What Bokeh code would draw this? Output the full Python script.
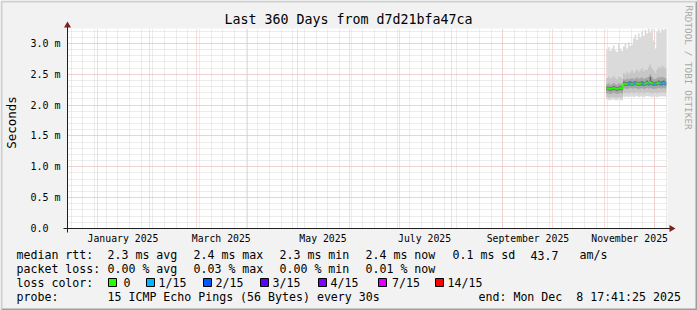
import datetime as dt
from bokeh.plotting import figure
from bokeh.models import (Range1d, FixedTicker, Label, PolyAnnotation, BoxAnnotation,
                          ColumnDataSource, Grid, LinearAxis, DatetimeAxis)
from bokeh.embed import file_html
from bokeh.resources import INLINE

# ---------------- data ----------------
end_time = dt.datetime(2025, 12, 8, 17, 41, 25)
start_time = end_time - dt.timedelta(days=360)
first_day = dt.datetime(2025, 11, 2)

median_ms = [2.27, 2.27, 2.26, 2.27, 2.28, 2.27, 2.26, 2.27, 2.28, 2.27,
             2.34, 2.35, 2.34, 2.35, 2.35, 2.34, 2.35, 2.36, 2.35, 2.34,
             2.35, 2.35, 2.34, 2.35, 2.36, 2.35, 2.37, 2.35, 2.34, 2.35,
             2.35, 2.36, 2.35, 2.35, 2.36, 2.35]
smoke_max = [2.90, 2.94, 2.88, 2.92, 2.97, 2.89, 2.86, 2.99, 2.92, 2.88,
             2.95, 3.00, 2.92, 3.02, 2.96, 2.98, 3.08, 3.14, 3.06, 3.16,
             3.10, 3.20, 3.12, 3.22, 3.16, 3.24, 3.18, 3.24, 3.05, 2.92,
             3.20, 3.24, 3.18, 3.24, 3.22, 3.24]
smoke_hi2 = [2.44, 2.46, 2.43, 2.45, 2.47, 2.44, 2.42, 2.46, 2.45, 2.43,
             2.52, 2.50, 2.54, 2.51, 2.53, 2.56, 2.52, 2.55, 2.58, 2.54,
             2.56, 2.60, 2.55, 2.58, 2.57, 2.62, 2.66, 2.60, 2.56, 2.52,
             2.58, 2.62, 2.60, 2.64, 2.62, 2.60]
smoke_hi3 = [2.34, 2.35, 2.33, 2.34, 2.36, 2.34, 2.33, 2.35, 2.35, 2.34,
             2.42, 2.41, 2.43, 2.42, 2.43, 2.44, 2.42, 2.44, 2.45, 2.43,
             2.44, 2.45, 2.43, 2.44, 2.45, 2.46, 2.50, 2.45, 2.43, 2.42,
             2.44, 2.46, 2.45, 2.46, 2.45, 2.44]
smoke_hi4 = [2.30, 2.30, 2.29, 2.30, 2.31, 2.30, 2.29, 2.30, 2.31, 2.30,
             2.38, 2.38, 2.37, 2.38, 2.39, 2.37, 2.38, 2.39, 2.38, 2.37,
             2.38, 2.39, 2.37, 2.38, 2.40, 2.38, 2.46, 2.39, 2.37, 2.38,
             2.38, 2.40, 2.38, 2.39, 2.40, 2.38]
smoke_lo4 = [2.24, 2.24, 2.23, 2.24, 2.25, 2.24, 2.23, 2.24, 2.25, 2.24,
             2.31, 2.32, 2.31, 2.32, 2.32, 2.31, 2.32, 2.33, 2.32, 2.31,
             2.32, 2.32, 2.31, 2.32, 2.33, 2.32, 2.33, 2.32, 2.31, 2.32,
             2.32, 2.33, 2.32, 2.32, 2.33, 2.32]
smoke_lo3 = [2.19, 2.19, 2.18, 2.19, 2.20, 2.19, 2.18, 2.19, 2.20, 2.19,
             2.27, 2.27, 2.26, 2.27, 2.28, 2.27, 2.27, 2.28, 2.27, 2.26,
             2.27, 2.28, 2.26, 2.27, 2.28, 2.27, 2.28, 2.27, 2.26, 2.27,
             2.27, 2.28, 2.27, 2.27, 2.28, 2.27]
smoke_lo2 = [2.13, 2.12, 2.12, 2.13, 2.13, 2.12, 2.12, 2.13, 2.13, 2.12,
             2.20, 2.19, 2.20, 2.19, 2.20, 2.20, 2.19, 2.20, 2.21, 2.19,
             2.20, 2.20, 2.19, 2.20, 2.21, 2.20, 2.20, 2.19, 2.20, 2.20,
             2.19, 2.20, 2.20, 2.21, 2.20, 2.20]
smoke_min = [2.09, 2.08, 2.08, 2.09, 2.09, 2.08, 2.08, 2.09, 2.08, 2.08,
             2.14, 2.13, 2.14, 2.13, 2.14, 2.14, 2.13, 2.14, 2.15, 2.13,
             2.14, 2.14, 2.13, 2.14, 2.15, 2.14, 2.14, 2.13, 2.14, 2.14,
             2.13, 2.14, 2.14, 2.15, 2.14, 2.14]
loss_of_15 = [0, 0, 0, 0, 0, 0, 0, 0, 0, 0,
              0, 0, 0, 1, 1, 0, 1, 1, 0, 0,
              0, 1, 1, 0, 0, 1, 0, 0, 1, 1,
              0, 0, 1, 1, 1, 1]

loss_labels = ["0", "1/15", "2/15", "3/15", "4/15", "7/15", "14/15"]
loss_colors = ["#26ff00", "#00b8ff", "#0059ff", "#5e00ff", "#7e00ff", "#dd00ff", "#ff0000"]
loss_levels = [0, 1, 2, 3, 4, 7, 14]

y_ticks = [0.0, 0.5, 1.0, 1.5, 2.0, 2.5, 3.0]
y_tick_labels = ["0.0\u00a0\u00a0", "0.5 m", "1.0 m", "1.5 m", "2.0 m", "2.5 m", "3.0 m"]
x_tick_labels = ["January 2025", "March 2025", "May 2025", "July 2025",
                 "September 2025", "November 2025"]
x_label_months = [(2025, 1), (2025, 3), (2025, 5), (2025, 7), (2025, 9), (2025, 11)]

title_text = "Last 360 Days from d7d21bfa47ca"
rtt_row = [("median rtt:", 16), ("2.3 ms avg", 107), ("2.4 ms max", 193),
           ("2.3 ms min", 279), ("2.4 ms now", 365), ("0.1 ms sd", 452),
           ("43.7", 530), ("am/s", 579)]
loss_row = [("packet loss:", 16), ("0.00 % avg", 107), ("0.03 % max", 193),
            ("0.00 % min", 279), ("0.01 % now", 365)]
probe_row = [("probe:", 16), ("15 ICMP Echo Pings (56 Bytes) every 30s", 107),
             ("end: Mon Dec\u00a0\u00a08 17:41:25 2025", 478)]
box_x = [108, 146, 203, 260, 318, 378, 435]
box_text_x = [123, 158, 215, 272, 330, 391.5, 447]

# ---------------- geometry helpers ----------------
W, H = 697, 310
FL, FT, FR, FB = 67, 28, 667, 228
EPOCH = dt.datetime(1970, 1, 1)
def ms(t):
    return (t - EPOCH).total_seconds() * 1000.0

Y_TOP = 3.243
X0 = ms(start_time)
XEND = ms(end_time)
px_ms = (XEND - X0) / (FR - FL)
px_y = Y_TOP / (FB - FT)
def dx(px):
    return X0 + (px - FL) * px_ms
def dy(py):
    return (FB - py) * px_y

FONT = "DejaVu Sans Mono"
BACK = "#f2f2f2"
GRID = "#d9d9d9"
MGRID = "#f2b6b6"
ARROW_C = "#801f1f"
AXIS_C = "#1f1f1f"

p = figure(width=W, height=H, x_axis_type="datetime",
           x_axis_location=None, y_axis_location=None,
           x_range=Range1d(dx(0), dx(W)), y_range=Range1d(dy(H), dy(0)),
           min_border=0, min_border_left=0, min_border_right=0,
           min_border_top=0, min_border_bottom=0,
           output_backend="svg", toolbar_location=None,
           background_fill_color=BACK, border_fill_color=BACK,
           outline_line_color=None, title=None)
p.center = []

# white canvas of the graph area
p.add_layout(BoxAnnotation(left=X0, right=XEND, bottom=0, top=Y_TOP, level="image",
                           fill_color="white", fill_alpha=1, line_color=None))

# grid
month_starts = []
yy, mm = 2025, 1
while True:
    t = dt.datetime(yy, mm, 1)
    if t > end_time:
        break
    month_starts.append(ms(t))
    mm += 1
    if mm > 12:
        yy, mm = yy + 1, 1
mondays = []
t = dt.datetime(2024, 12, 16)
while t <= end_time:
    mondays.append(ms(t))
    t += dt.timedelta(days=7)
y_minor = [round(0.1 * k, 1) for k in range(1, 33)]

xg = Grid(dimension=0, ticker=FixedTicker(ticks=month_starts, minor_ticks=mondays),
          bounds=(X0, XEND), cross_bounds=(0, Y_TOP),
          grid_line_color=MGRID, grid_line_dash="1 1",
          minor_grid_line_color=GRID, minor_grid_line_dash="1 1")
yg = Grid(dimension=1, ticker=FixedTicker(ticks=y_ticks[1:], minor_ticks=y_minor),
          bounds=(0, Y_TOP), cross_bounds=(X0, XEND),
          grid_line_color=MGRID, grid_line_dash="1 1",
          minor_grid_line_color=GRID, minor_grid_line_dash="1 1")
p.add_layout(xg)
p.add_layout(yg)

# axes drawn at fixed positions inside the canvas
label_pos = [ms(dt.datetime(a, b, 16)) for a, b in x_label_months]
xaxis = DatetimeAxis(fixed_location=0.0, ticker=FixedTicker(ticks=label_pos, minor_ticks=[]))
xaxis.major_label_overrides = {k: v for k, v in zip(label_pos, x_tick_labels)}
yaxis = LinearAxis(fixed_location=X0, ticker=FixedTicker(ticks=y_ticks, minor_ticks=[]))
yaxis.major_label_overrides = {k: v for k, v in zip(y_ticks, y_tick_labels)}
for ax in (xaxis, yaxis):
    ax.axis_line_color = None
    ax.major_tick_line_color = None
    ax.minor_tick_line_color = None
    ax.major_tick_out = 0
    ax.major_tick_in = 0
    ax.minor_tick_out = 0
    ax.minor_tick_in = 0
    ax.major_label_text_font = FONT
    ax.major_label_text_color = "black"
xaxis.major_label_text_font_size = "9.8px"
xaxis.major_label_standoff = 4
yaxis.major_label_text_font_size = "10px"
yaxis.major_label_standoff = 7
p.add_layout(xaxis, "below")
p.add_layout(yaxis, "left")

# smoke
n = len(median_ms)
edges = [first_day + dt.timedelta(days=i) for i in range(n + 1)]
def ext(a):
    return list(a) + [a[-1]]
bands = [(smoke_min, smoke_max, "#dadada"),
         (smoke_lo2, smoke_hi2, "#c6c6c6"),
         (smoke_lo3, smoke_hi3, "#a6a6a6"),
         (smoke_lo4, smoke_hi4, "#6a6a6a")]
for lo, hi, col in bands:
    p.varea_step(x=edges, y1=ext(lo), y2=ext(hi), step_mode="after",
                 fill_color=col, fill_alpha=1.0)

# median coloured by loss
cmap = {lv: c for lv, c in zip(loss_levels, loss_colors)}
seg = dict(x0=[], x1=[], y0=[], y1=[], c=[])
for i in range(n):
    col = cmap[loss_of_15[i]]
    seg["x0"].append(edges[i]); seg["x1"].append(edges[i + 1])
    seg["y0"].append(median_ms[i]); seg["y1"].append(median_ms[i]); seg["c"].append(col)
    if i > 0 and median_ms[i] != median_ms[i - 1]:
        seg["x0"].append(edges[i]); seg["x1"].append(edges[i])
        seg["y0"].append(median_ms[i - 1]); seg["y1"].append(median_ms[i]); seg["c"].append(col)
p.segment(x0="x0", x1="x1", y0="y0", y1="y1", color="c", line_width=2,
          source=ColumnDataSource(seg))

def poly(pxs, pys, color, line_color=None):
    p.add_layout(PolyAnnotation(xs=[dx(v) for v in pxs], ys=[dy(v) for v in pys],
                                fill_color=color, fill_alpha=1, line_color=line_color,
                                line_width=1, line_alpha=1))

# 3d frame shades
poly([0, 2, 2, W - 2, W, 0], [H, H - 2, 2, 2, 0, 0], "#cfcfcf")
poly([2, W - 2, W - 2, W, W, 0], [H - 2, H - 2, 2, 0, H, H], "#9e9e9e")

# axis lines and arrow heads
poly([63, 670, 670, 63], [227.5, 227.5, 228.5, 228.5], AXIS_C)
poly([66.5, 67.5, 67.5, 66.5], [232, 232, 26, 26], AXIS_C)
poly([669, 675, 669], [224.5, 228, 231.5], ARROW_C)
poly([63.5, 67, 70.5], [27, 21, 27], ARROW_C)

def txt(s, px, py, size="11.6px", align="left", angle=0.0, color="black"):
    p.add_layout(Label(x=dx(px), y=dy(py), text=s,
                       text_font=FONT, text_font_size=size, text_align=align,
                       text_baseline="middle", angle=angle, text_color=color))

txt(title_text, 348, 19, size="13.3px", align="center")
txt("Seconds", 11, 122, size="12.5px", align="center", angle=1.5708)
txt("RRDTOOL / TOBI OETIKER", 688.5, 5, size="9.4px", align="left", angle=-1.5708, color="#a8a8a8")

for s, x in rtt_row:
    txt(s, x, 254.5)
for s, x in loss_row:
    txt(s, x, 268)
txt("loss color:", 16, 282)
for bx, tx, lab, col in zip(box_x, box_text_x, loss_labels, loss_colors):
    poly([bx, bx + 8, bx + 8, bx], [278, 278, 286, 286], col, line_color="black")
    txt(lab, tx, 282)
for s, x in probe_row:
    txt(s, x, 296)

open("out.html", "w").write(file_html(p, INLINE))
